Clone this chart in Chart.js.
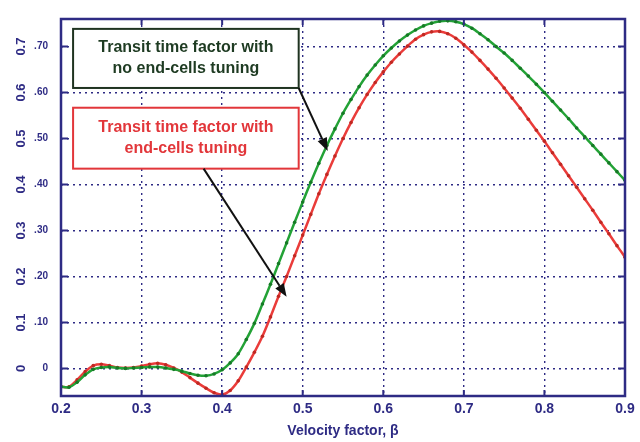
<!DOCTYPE html>
<html>
<head>
<meta charset="utf-8">
<script src="https://cdn.jsdelivr.net/npm/chart.js@4.4.0/dist/chart.umd.min.js"></script>
<style>
  html, body { margin: 0; padding: 0; background: #fff; }
  #wrap { width: 640px; height: 442px; }
</style>
</head>
<body>
<div id="wrap"><canvas id="ttf"></canvas></div>
<script>
// velocity factor beta (x values)
const beta = [0.20, 0.21, 0.22, 0.23, 0.24, 0.25, 0.26, 0.27, 0.28, 0.29,
  0.30, 0.31, 0.32, 0.33, 0.34, 0.35, 0.36, 0.37, 0.38, 0.39,
  0.40, 0.41, 0.42, 0.43, 0.44, 0.45, 0.46, 0.47, 0.48, 0.49,
  0.50, 0.51, 0.52, 0.53, 0.54, 0.55, 0.56, 0.57, 0.58, 0.59,
  0.60, 0.61, 0.62, 0.63, 0.64, 0.65, 0.66, 0.67, 0.68, 0.69,
  0.70, 0.71, 0.72, 0.73, 0.74, 0.75, 0.76, 0.77, 0.78, 0.79,
  0.80, 0.81, 0.82, 0.83, 0.84, 0.85, 0.86, 0.87, 0.88, 0.89, 0.90];

// transit time factor, no end-cells tuning (green)
const noTuning = [-0.040, -0.041, -0.030, -0.014, -0.002, 0.002, 0.003, 0.001, 0.000, 0.001,
  0.002, 0.003, 0.003, 0.001, -0.002, -0.006, -0.011, -0.015, -0.016, -0.012,
  -0.003, 0.012, 0.032, 0.063, 0.098, 0.140, 0.183, 0.228, 0.273, 0.318,
  0.362, 0.405, 0.446, 0.485, 0.521, 0.555, 0.585, 0.613, 0.638, 0.660,
  0.680, 0.697, 0.712, 0.725, 0.736, 0.745, 0.751, 0.755, 0.756, 0.754,
  0.749, 0.740, 0.728, 0.715, 0.700, 0.686, 0.670, 0.653, 0.636, 0.618,
  0.600, 0.581, 0.562, 0.543, 0.523, 0.504, 0.485, 0.466, 0.447, 0.428, 0.409];

// transit time factor, with end-cells tuning (red)
const withTuning = [-0.040, -0.040, -0.025, -0.007, 0.006, 0.009, 0.006, 0.002, 0.001, 0.002,
  0.005, 0.009, 0.011, 0.008, 0.001, -0.008, -0.020, -0.032, -0.043, -0.053,
  -0.057, -0.048, -0.027, 0.003, 0.035, 0.070, 0.112, 0.157, 0.200, 0.245,
  0.290, 0.335, 0.380, 0.422, 0.462, 0.500, 0.535, 0.567, 0.596, 0.622,
  0.645, 0.666, 0.684, 0.701, 0.716, 0.726, 0.732, 0.733, 0.728, 0.718,
  0.704, 0.688, 0.670, 0.651, 0.631, 0.610, 0.588, 0.566, 0.542, 0.518,
  0.494, 0.469, 0.444, 0.419, 0.394, 0.369, 0.344, 0.318, 0.293, 0.267, 0.242];

const xTicks = [0.2, 0.3, 0.4, 0.5, 0.6, 0.7, 0.8, 0.9];
const xTickLabels = ["0.2", "0.3", "0.4", "0.5", "0.6", "0.7", "0.8", "0.9"];
const yTicks = [0, 0.1, 0.2, 0.3, 0.4, 0.5, 0.6, 0.7];
const yInnerLabels = ["0", ".10", ".20", ".30", ".40", ".50", ".60", ".70"];
const yOuterLabels = ["0", "0.1", "0.2", "0.3", "0.4", "0.5", "0.6", "0.7"];

const navy = "#2e2b84";

// callout boxes and arrows, in data units
const callouts = [
  { lines: ["Transit time factor with", "no end-cells tuning"], color: "#1e3b22", border: "#1f3320",
    box: [0.215, 0.7385, 0.495, 0.61], arrow: [0.495, 0.61, 0.531, 0.473] },
  { lines: ["Transit time factor with", "end-cells tuning"], color: "#e2363a", border: "#e2363a",
    box: [0.215, 0.567, 0.495, 0.4345], arrow: [0.377, 0.4345, 0.480, 0.156] }
];

const decor = {
  id: "decor",
  afterDraw(chart) {
    const c = chart.ctx;
    const xs = chart.scales.x, ys = chart.scales.y;
    const a = chart.chartArea;
    c.save();

    // inward tick marks
    c.strokeStyle = navy;
    c.lineWidth = 2;
    c.beginPath();
    yTicks.forEach(v => {
      const y = ys.getPixelForValue(v);
      c.moveTo(a.left, y); c.lineTo(a.left + 7, y);
      c.moveTo(a.right, y); c.lineTo(a.right - 7, y);
    });
    xTicks.forEach(v => {
      const x = xs.getPixelForValue(v);
      c.moveTo(x, a.bottom); c.lineTo(x, a.bottom - 6);
      c.moveTo(x, a.top); c.lineTo(x, a.top + 6);
    });
    c.stroke();

    // frame
    c.lineWidth = 2.5;
    c.strokeRect(a.left, a.top, a.right - a.left, a.bottom - a.top);

    // rotated outer y labels
    c.fillStyle = navy;
    c.font = "bold 13px 'Liberation Sans', Arial, sans-serif";
    c.textAlign = "center";
    c.textBaseline = "middle";
    yTicks.forEach((v, i) => {
      const y = ys.getPixelForValue(v);
      c.save();
      c.translate(21, y);
      c.rotate(-Math.PI / 2);
      c.fillText(yOuterLabels[i], 0, 0);
      c.restore();
    });

    // callouts
    callouts.forEach(n => {
      const x0 = xs.getPixelForValue(n.box[0]), y0 = ys.getPixelForValue(n.box[1]);
      const x1 = xs.getPixelForValue(n.box[2]), y1 = ys.getPixelForValue(n.box[3]);
      c.fillStyle = "#fff";
      c.fillRect(x0, y0, x1 - x0, y1 - y0);
      c.strokeStyle = n.border;
      c.lineWidth = 2;
      c.strokeRect(x0, y0, x1 - x0, y1 - y0);
      c.fillStyle = n.color;
      c.font = "bold 16px 'Liberation Sans', Arial, sans-serif";
      const cx = (x0 + x1) / 2, cy = (y0 + y1) / 2;
      c.fillText(n.lines[0], cx, cy - 11);
      c.fillText(n.lines[1], cx, cy + 10);

      const ax = xs.getPixelForValue(n.arrow[0]), ay = ys.getPixelForValue(n.arrow[1]);
      const bx = xs.getPixelForValue(n.arrow[2]), by = ys.getPixelForValue(n.arrow[3]);
      const ang = Math.atan2(by - ay, bx - ax);
      const hl = 13, hw = 5;
      c.strokeStyle = "#111";
      c.lineWidth = 2;
      c.beginPath();
      c.moveTo(ax, ay);
      c.lineTo(bx - hl * Math.cos(ang), by - hl * Math.sin(ang));
      c.stroke();
      c.fillStyle = "#111";
      c.beginPath();
      c.moveTo(bx, by);
      c.lineTo(bx - hl * Math.cos(ang) + hw * Math.sin(ang), by - hl * Math.sin(ang) - hw * Math.cos(ang));
      c.lineTo(bx - hl * Math.cos(ang) - hw * Math.sin(ang), by - hl * Math.sin(ang) + hw * Math.cos(ang));
      c.closePath();
      c.fill();
    });
    c.restore();
  }
};

const ctx = document.getElementById("ttf").getContext("2d");

new Chart(ctx, {
  type: "line",
  data: {
    datasets: [
      {
        label: "No end-cells tuning",
        data: beta.map((b, i) => ({ x: b, y: noTuning[i] })),
        borderColor: "#23a236",
        backgroundColor: "#167a26",
        pointBackgroundColor: "#167a26",
        borderWidth: 2.5,
        pointRadius: 1.8,
        pointBorderWidth: 0,
        tension: 0.3
      },
      {
        label: "With end-cells tuning",
        data: beta.map((b, i) => ({ x: b, y: withTuning[i] })),
        borderColor: "#ea3c3a",
        backgroundColor: "#c02822",
        pointBackgroundColor: "#c02822",
        borderWidth: 2.5,
        pointRadius: 1.8,
        pointBorderWidth: 0,
        tension: 0.3
      }
    ]
  },
  options: {
    responsive: true,
    maintainAspectRatio: false,
    animation: false,
    layout: { padding: { left: 0, right: 15, top: 13, bottom: 0 } },
    plugins: { legend: { display: false }, tooltip: { enabled: false } },
    scales: {
      x: {
        type: "linear",
        min: 0.2,
        max: 0.9,
        afterBuildTicks: s => { s.ticks = xTicks.map(v => ({ value: v })); },
        afterFit: s => { s.height = 46; },
        ticks: {
          callback: (v, i) => xTickLabels[i],
          color: navy,
          font: { family: "'Liberation Sans', Arial, sans-serif", size: 14, weight: "bold" },
          padding: 5,
          maxRotation: 0,
          autoSkip: false
        },
        grid: { color: navy, lineWidth: 1.4, drawTicks: false, borderDash: [2, 4] },
        border: { display: false, dash: [2, 4] },
        title: {
          display: true,
          text: "Velocity factor, β",
          color: navy,
          font: { family: "'Liberation Sans', Arial, sans-serif", size: 14, weight: "bold" },
          padding: { top: 2, bottom: 2 }
        }
      },
      y: {
        min: -0.06,
        max: 0.76,
        afterBuildTicks: s => { s.ticks = yTicks.map(v => ({ value: v })); },
        afterFit: s => { s.width = 61; },
        ticks: {
          callback: (v, i) => yInnerLabels[i],
          color: navy,
          font: { family: "'Liberation Sans', Arial, sans-serif", size: 10, weight: "bold" },
          padding: 13
        },
        grid: { color: navy, lineWidth: 1.4, drawTicks: false, borderDash: [2, 4] },
        border: { display: false, dash: [2, 4] }
      }
    }
  },
  plugins: [decor]
});
</script>
</body>
</html>
